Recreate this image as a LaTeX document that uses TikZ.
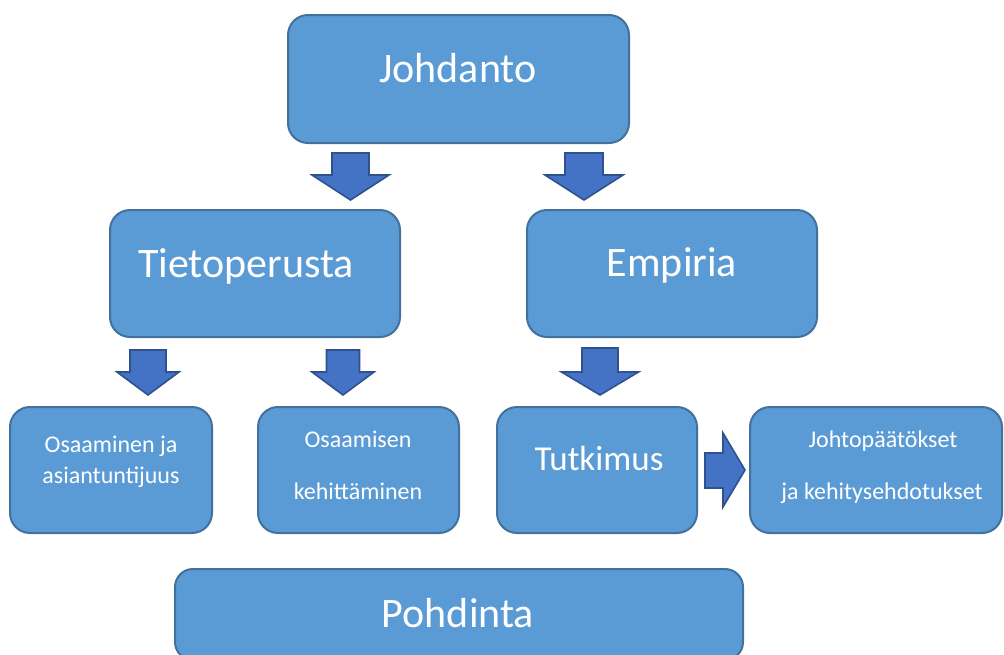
\documentclass[tikz,border=0pt]{standalone}
\usepackage{fontspec}
\setmainfont{Carlito}
\definecolor{boxfill}{HTML}{5B9BD5}
\definecolor{boxline}{HTML}{41719C}
\definecolor{arrfill}{HTML}{4472C4}
\definecolor{arrline}{HTML}{2F528F}
\tikzset{
  box/.style={draw=boxline, fill=boxfill, line width=2pt, rounded corners=20pt,
    inner sep=0pt, outer sep=0pt},
  boxtext/.style={text=white, inner sep=0pt, anchor=base},
  bigtext/.style={boxtext, font=\fontsize{42}{50}\selectfont},
  midtext/.style={boxtext, font=\fontsize{35}{42}\selectfont},
  smalltext/.style={boxtext, font=\fontsize{24}{30}\selectfont},
  blockarrow/.style={draw=arrline, fill=arrfill, line width=1.6pt, line join=miter},
}
% downward block arrow: centre x, top y, head y, tip y, half shaft, half head
\newcommand{\blockdown}[6]{%
  \draw[blockarrow] (#1-#5,#2) -- (#1+#5,#2) -- (#1+#5,#3) -- (#1+#6,#3)
    -- (#1,#4) -- (#1-#6,#3) -- (#1-#5,#3) -- cycle;}
\begin{document}
\begin{tikzpicture}[x=1pt, y=-1pt]
  \useasboundingbox (0,0) rectangle (1004,654);
  \clip (0,0) rectangle (1004,654);

  % boxes
  \node[box, minimum width=341pt, minimum height=128pt] (joh) at (458.5,79) {};
  \node[box, minimum width=290pt, minimum height=127pt] (tie) at (255,273.5) {};
  \node[box, minimum width=290pt, minimum height=127pt] (emp) at (672,273.5) {};
  \node[box, minimum width=202pt, minimum height=126pt] (osa) at (111,470) {};
  \node[box, minimum width=201pt, minimum height=126pt] (keh) at (358.5,470) {};
  \node[box, minimum width=200pt, minimum height=126pt] (tut) at (597,470) {};
  \node[box, minimum width=252pt, minimum height=126pt] (joht) at (876,470) {};
  \node[box, minimum width=568pt, minimum height=91pt, rounded corners=18pt] (poh) at (459,614.5) {};

  % labels
  \node[bigtext] (joh-t) at (458,82) {Johdanto};
  \node[bigtext, anchor=base west] (tie-t) at (138,277) {Tietoperusta};
  \node[bigtext] (emp-t) at (672,276) {Empiria};
  \node[smalltext] (osa-t1) at (111,452) {Osaaminen ja};
  \node[smalltext] (osa-t2) at (111,483) {asiantuntijuus};
  \node[smalltext] (keh-t1) at (358,447) {Osaamisen};
  \node[smalltext] (keh-t2) at (358,499) {kehittäminen};
  \node[midtext] (tut-t) at (599,470) {Tutkimus};
  \node[smalltext] (joht-t1) at (883,447) {Johtopäätökset};
  \node[smalltext] (joht-t2) at (882,499) {ja kehitysehdotukset};
  \node[bigtext] (poh-t) at (458,627) {Pohdinta};

  % block arrows
  \blockdown{350.5}{153}{175}{200}{18.5}{38.5}
  \blockdown{584}{153}{175}{200}{19}{39}
  \blockdown{148}{350}{372}{395}{18}{31}
  \blockdown{343}{350}{372}{395}{16.5}{31}
  \blockdown{600}{348}{372}{395}{18}{38.5}
  \draw[blockarrow] (705,453) -- (723,453) -- (723,433) -- (745,470)
    -- (723,507) -- (723,488) -- (705,488) -- cycle;
\end{tikzpicture}
\end{document}
